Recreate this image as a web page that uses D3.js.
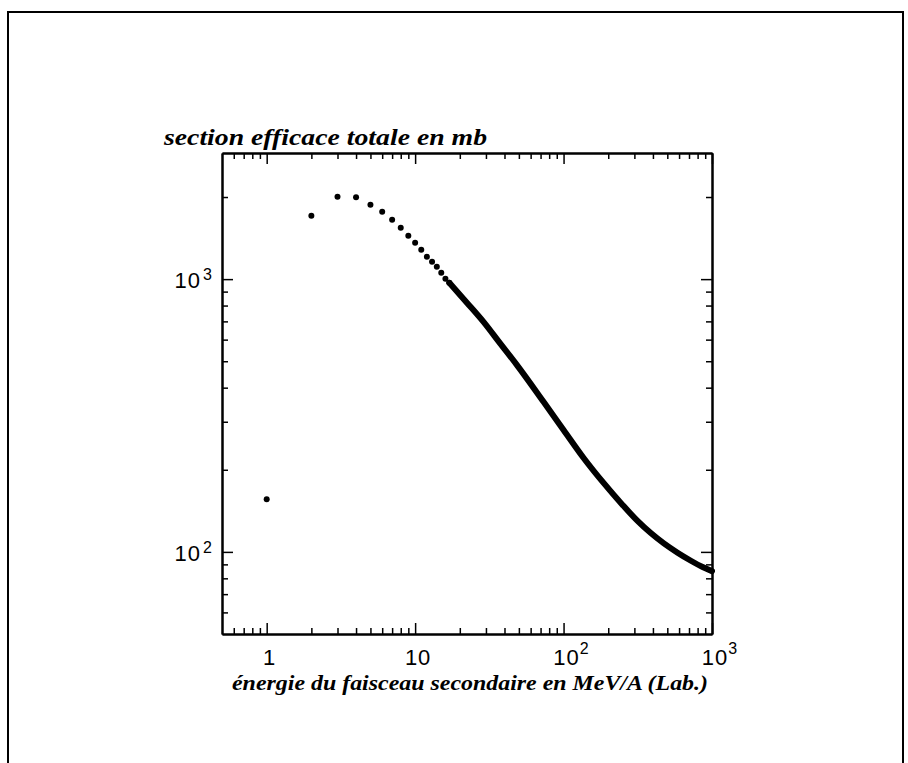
<!DOCTYPE html>
<html>
<head>
<meta charset="utf-8">
<script src="https://cdn.jsdelivr.net/npm/d3@7"></script>
<style>
  body { margin: 0; background: #fff; }
  svg { display: block; }
</style>
</head>
<body>
<div class="chart"></div>
<script>
// Total cross-section vs beam energy (log-log)
// separate dots at low energy
const dotEnergy = [1, 2, 3, 4, 5, 6, 7, 8, 9, 10, 11, 12, 13, 14, 15, 16, 17];
const dotSigma = [156, 1706, 2004, 1995, 1873, 1765, 1650, 1543, 1442, 1359, 1281, 1208, 1157, 1110, 1055, 1003, 969];

// above ~17 MeV/A the dots merge into a thick line
const curveEnergy = [17, 22.4, 28.9, 37.5, 48.7, 73.3, 100, 136.5, 186, 249, 315, 387, 474, 586, 721, 865, 1000];
const curveSigma = [969, 818, 697, 580, 483, 355, 280, 221, 179, 149, 129.9, 117.2, 107.4, 99.3, 92.8, 88.0, 85.0];

const xMajor = [1, 10, 100, 1000];
const xMajorBase = ["1", "10", "10", "10"];
const xMajorExp = ["", "", "2", "3"];
const xMinor = [0.6, 0.7, 0.8, 0.9, 2, 3, 4, 5, 6, 7, 8, 9, 20, 30, 40, 50, 60, 70, 80, 90, 200, 300, 400, 500, 600, 700, 800, 900];

const yMajor = [100, 1000];
const yMajorBase = ["10", "10"];
const yMajorExp = ["2", "3"];
const yMinor = [60, 70, 80, 90, 200, 300, 400, 500, 600, 700, 800, 900, 2000];

const width = 908, height = 763;
const margin = { top: 153, right: 196, bottom: 129, left: 222 };
const plotW = width - margin.left - margin.right;
const plotH = height - margin.top - margin.bottom;

const svg = d3.select(".chart")
    .append("svg")
    .attr("width", width)
    .attr("height", height);

// outer frame of the scanned page
svg.append("path")
    .attr("d", "M8,763 L8,12 L903,12 L903,763")
    .attr("fill", "none")
    .attr("stroke", "#000")
    .attr("stroke-width", 2);

const g = svg.append("g")
    .attr("transform", "translate(" + margin.left + "," + margin.top + ")");

const x = d3.scaleLog().domain([0.5, 1000]).range([0, plotW]);
const y = d3.scaleLog().domain([50, 2900]).range([plotH, 0]);

// axes on all four sides, ticks pointing inwards
// (minor and major ticks need their own groups, or the second call wipes the first)
function drawAxis(axisFn, scale, major, minor, transform) {
    const minorG = g.append("g").attr("transform", transform);
    minorG.call(axisFn(scale).tickValues(minor).tickSize(-6).tickSizeOuter(0).tickFormat(""));
    const majorG = g.append("g").attr("transform", transform);
    majorG.call(axisFn(scale).tickValues(major).tickSize(-11).tickSizeOuter(0).tickFormat(""));
    g.selectAll("path.domain").attr("stroke-width", 2);
    g.selectAll(".tick line").attr("stroke-width", 1.5);
}
drawAxis(d3.axisBottom, x, xMajor, xMinor, "translate(0," + plotH + ")");
drawAxis(d3.axisTop, x, xMajor, xMinor, "translate(0,0)");
drawAxis(d3.axisLeft, y, yMajor, yMinor, "translate(0,0)");
drawAxis(d3.axisRight, y, yMajor, yMinor, "translate(" + plotW + ",0)");

// x tick labels
const labelFont = "'Liberation Sans', Arial, Helvetica, sans-serif";
xMajor.forEach((v, i) => {
    const lx = x(v) + 3;
    const t = g.append("text")
        .attr("x", lx)
        .attr("y", plotH + 31)
        .attr("text-anchor", "middle")
        .style("font-family", labelFont)
        .style("font-size", "22px")
        .style("letter-spacing", "1px")
        .text(xMajorBase[i]);
    if (xMajorExp[i]) {
        const w = t.node().getComputedTextLength();
        g.append("text")
            .attr("x", lx + w / 2)
            .attr("y", plotH + 20)
            .style("font-family", labelFont)
            .style("font-size", "16px")
            .text(xMajorExp[i]);
    }
});

// y tick labels
yMajor.forEach((v, i) => {
    g.append("text")
        .attr("x", -21)
        .attr("y", y(v) + 9)
        .attr("text-anchor", "end")
        .style("font-family", labelFont)
        .style("font-size", "22px")
        .style("letter-spacing", "1px")
        .text(yMajorBase[i]);
    g.append("text")
        .attr("x", -19)
        .attr("y", y(v) + 1)
        .style("font-family", labelFont)
        .style("font-size", "16px")
        .text(yMajorExp[i]);
});

// axis titles
const titleFont = "'Liberation Serif', 'Times New Roman', serif";
svg.append("text")
    .attr("x", 164)
    .attr("y", 145)
    .attr("textLength", 323)
    .attr("lengthAdjust", "spacingAndGlyphs")
    .style("font-family", titleFont)
    .style("font-style", "italic")
    .style("font-weight", "bold")
    .style("font-size", "24px")
    .text("section efficace totale en mb");

svg.append("text")
    .attr("x", 232)
    .attr("y", 690)
    .attr("textLength", 476)
    .attr("lengthAdjust", "spacingAndGlyphs")
    .style("font-family", titleFont)
    .style("font-style", "italic")
    .style("font-weight", "bold")
    .style("font-size", "22px")
    .text("énergie du faisceau secondaire en MeV/A (Lab.)");

// dense part drawn as a thick line
const curveData = curveEnergy.map((e, i) => ({ e: e, s: curveSigma[i] }));
const line = d3.line()
    .x(d => x(d.e))
    .y(d => y(d.s))
    .curve(d3.curveMonotoneX);
g.append("path")
    .datum(curveData)
    .attr("d", line)
    .attr("fill", "none")
    .attr("stroke", "#000")
    .attr("stroke-width", 6)
    .attr("stroke-linecap", "round")
    .attr("stroke-linejoin", "round");

// separate points
const dotData = dotEnergy.map((e, i) => ({ e: e, s: dotSigma[i] }));
g.selectAll("circle")
    .data(dotData)
    .join("circle")
    .attr("cx", d => x(d.e))
    .attr("cy", d => y(d.s))
    .attr("r", 3)
    .attr("fill", "#000");
</script>
</body>
</html>
